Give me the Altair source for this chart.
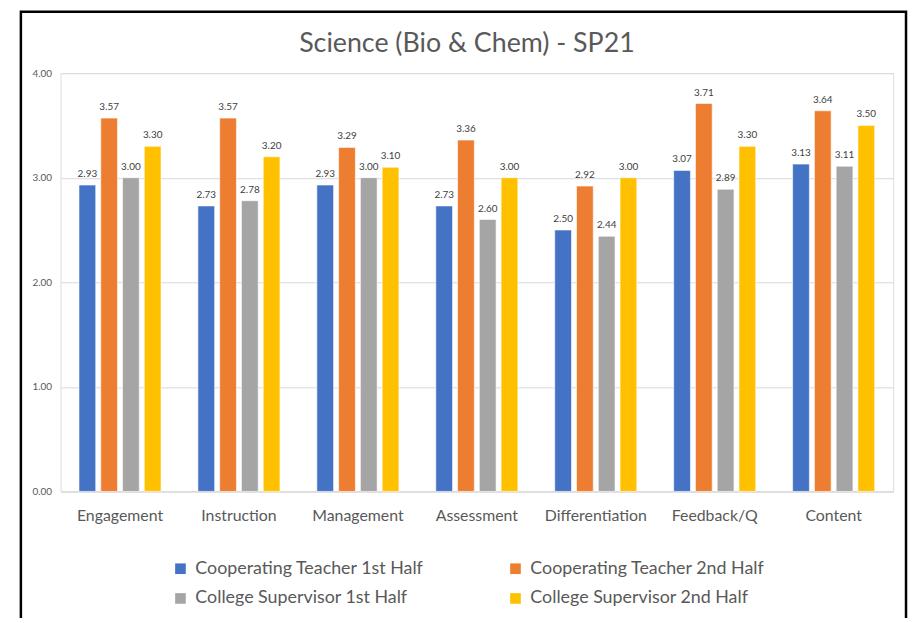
import altair as alt
import pandas as pd

TITLE = "Science (Bio & Chem) - SP21"
categories = ["Engagement", "Instruction", "Management", "Assessment",
              "Differentiation", "Feedback/Q", "Content"]
series = ["Cooperating Teacher 1st Half", "Cooperating Teacher 2nd Half",
          "College Supervisor 1st Half", "College Supervisor 2nd Half"]
ct1 = [2.93, 2.73, 2.93, 2.73, 2.50, 3.07, 3.13]
ct2 = [3.57, 3.57, 3.29, 3.36, 2.92, 3.71, 3.64]
cs1 = [3.00, 2.78, 3.00, 2.60, 2.44, 2.89, 3.11]
cs2 = [3.30, 3.20, 3.10, 3.00, 3.00, 3.30, 3.50]
colors = ["#4472C4", "#ED7D31", "#A5A5A5", "#FFC000"]
y_ticks = [0, 1, 2, 3, 4]

rows = []
for s, vals in zip(series, [ct1, ct2, cs1, cs2]):
    for c, v in zip(categories, vals):
        rows.append({"Category": c, "Series": s, "Value": v})
df = pd.DataFrame(rows)

FONT = "Lato"
GREY = "#595959"

base = alt.Chart(df).encode(
    x=alt.X("Category:N", sort=categories, title=None,
            scale=alt.Scale(paddingInner=0.31, paddingOuter=0.155),
            axis=alt.Axis(labelAngle=0, labelFontSize=16, labelColor=GREY,
                          labelFont=FONT, labelPadding=16, ticks=False,
                          domainColor="#D9D9D9", grid=False)),
    xOffset=alt.XOffset("Series:N", sort=series,
                        scale=alt.Scale(paddingInner=0.23, paddingOuter=0)),
    y=alt.Y("Value:Q", title=None, scale=alt.Scale(domain=[0, 4]),
            axis=alt.Axis(values=y_ticks, format=".2f", labelFontSize=10,
                          labelColor=GREY, labelFont=FONT, labelPadding=9,
                          ticks=False, domain=False, gridColor="#D9D9D9")),
)

bars = base.mark_bar(stroke="white", strokeWidth=0.6).encode(
    color=alt.Color("Series:N", sort=series,
                    scale=alt.Scale(domain=series, range=colors),
                    legend=alt.Legend(title=None, orient="none", legendX=112,
                                      legendY=491, columns=2, direction="horizontal",
                                      columnPadding=83,
                                      rowPadding=12, symbolType="square",
                                      symbolSize=115, symbolStrokeWidth=0,
                                      labelFontSize=18, labelColor=GREY,
                                      labelFont=FONT, labelLimit=400,
                                      labelOffset=6))
)

labels = base.mark_text(baseline="bottom", dy=-6, fontSize=10,
                        color="#404040", font=FONT).encode(
    text=alt.Text("Value:Q", format=".2f"))

one = pd.DataFrame({"k": [0]})
frame = alt.Chart(one).mark_rect(
    fillOpacity=0, stroke="black", strokeWidth=2.5).encode(
    x=alt.value(-40), x2=alt.value(853), y=alt.value(-62), y2=alt.value(700))

title = alt.Chart(one).mark_text(
    text=TITLE, fontSize=27, font=FONT, color=GREY, align="center",
    baseline="alphabetic").encode(x=alt.value(410), y=alt.value(-21))

chart = alt.layer(bars, labels, frame, title).properties(
    width=840, height=422,
    autosize="none",
    padding={"left": 53, "top": 63, "right": 15, "bottom": 125},
).configure_view(stroke=None).configure(background="white")

chart.save("out.html", embed_options={"renderer": "svg", "actions": False})
